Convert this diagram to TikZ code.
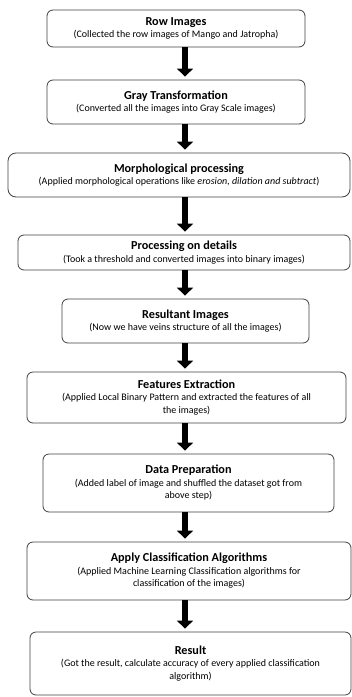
\documentclass[tikz,border=0pt]{standalone}
\usepackage{fontspec}
\setmainfont{Carlito}
\usetikzlibrary{arrows.meta}
\tikzset{
  box/.style={draw=black!75, line width=0.8pt, rounded corners=6pt, align=center, inner sep=0pt, font=\fontsize{10}{12.5}\selectfont},
  flow/.style={line width=6pt, -{Triangle[width=16pt,length=8pt]}, shorten >=3pt},
}
\newcommand{\ttl}[1]{{\fontsize{12.2}{15}\selectfont\bfseries #1}}
\begin{document}
\begin{tikzpicture}[x=1pt,y=-1pt]
\useasboundingbox (0,0) rectangle (352,697);
\node[box, minimum width=258pt, minimum height=37pt] (b1) at (176,28.5) {\ttl{Row Images}\\(Collected the row images of Mango and Jatropha)};
\node[box, minimum width=258pt, minimum height=44pt] (b2) at (176,102) {\ttl{Gray Transformation}\\(Converted all the images into Gray Scale images)};
\node[box, rounded corners=8pt, minimum width=342pt, minimum height=44pt] (b3) at (179,175) {\ttl{Morphological processing}\\(Applied morphological operations like \emph{erosion, dilation and subtract})};
\node[box, minimum width=332pt, minimum height=35pt] (b4) at (184,252.5) {\ttl{Processing on details}\\(Took a threshold and converted images into binary images)};
\node[box, minimum width=247pt, minimum height=44pt] (b5) at (185.5,321) {\ttl{Resultant Images}\\(Now we have veins structure of all the images)};
\node[box, minimum width=319pt, minimum height=51pt] (b6) at (186.5,397.5) {\ttl{Features Extraction}\\(Applied Local Binary Pattern and extracted the features of all\\the images)};
\node[box, minimum width=291pt, minimum height=58pt] (b7) at (188.5,483) {\ttl{Data Preparation}\\(Added label of image and shuffled the dataset got from\\above step)};
\node[box, minimum width=324pt, minimum height=58pt] (b8) at (189,571) {\ttl{Apply Classification Algorithms}\\(Applied Machine Learning Classification algorithms for\\classification of the images)};
\node[box, minimum width=321pt, minimum height=63pt] (b9) at (190.5,663.5) {\ttl{Result}\\(Got the result, calculate accuracy of every applied classification\\algorithm)};
\foreach \a/\b in {b1/b2,b2/b3,b3/b4,b4/b5,b5/b6,b6/b7,b7/b8,b8/b9}
  \draw[flow] (185,0 |- \a.south) -- (185,0 |- \b.north);
\end{tikzpicture}
\end{document}
